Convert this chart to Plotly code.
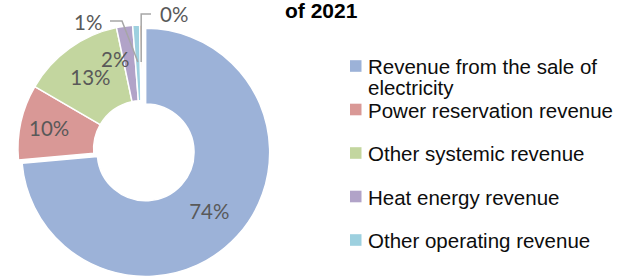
import math
import plotly.graph_objects as go

# ---- data ----
categories = [
    "Revenue from the sale of electricity",
    "Power reservation revenue",
    "Other systemic revenue",
    "Heat energy revenue",
    "Other operating revenue",
    "Other",
]
shares = [73.6, 9.8, 13.3, 2.1, 0.9, 0.3]
colors = ["#9cb2d8", "#d99896", "#c3d69f", "#b1a3c8", "#9dd0df", "#f9be91"]
legend_lines = [["Revenue from the sale of", "electricity"],
                ["Power reservation revenue"],
                ["Other systemic revenue"],
                ["Heat energy revenue"],
                ["Other operating revenue"]]
title_text = "of 2021"

W, H = 621, 278
TOP = 20
PULL = 0.04
CX = 142

def px(x):
    return x / W

def py(y):
    return 1 - y / H

fig = go.Figure()

fig.add_trace(go.Pie(
    labels=categories,
    values=shares,
    sort=False,
    direction="clockwise",
    rotation=0,
    hole=0.39,
    pull=[PULL, 0, 0, 0, 0, 0],
    marker=dict(colors=colors, line=dict(color="white", width=1.5)),
    texttemplate="%{percent:.0%}",
    textposition=["inside", "inside", "inside", "none", "none", "none"],
    insidetextorientation="horizontal",
    textfont=dict(family="Lato, Open Sans, sans-serif", size=20.5, color="#595959"),
    domain=dict(x=[0, px(2 * CX)], y=[0, py(TOP)]),
    showlegend=False,
    hoverinfo="label+percent",
))

# pie geometry (matches plotly's layout of the domain)
R = (H - TOP) / 2 / (1 + PULL)
CY = TOP + (H - TOP) / 2
total = sum(shares)
cum = [sum(shares[:i]) / total for i in range(len(shares) + 1)]

def ring_point(idx, ypix):
    mid = (cum[idx] + cum[idx + 1]) / 2 * 2 * math.pi
    dy = CY - ypix
    return CX + math.tan(mid) * dy

annotations = []
shapes = []
lab_font = dict(family="Lato, Open Sans, sans-serif", size=20.5, color="#595959")

# small-slice labels
pct = [round(s / total * 100) for s in shares]
for idx, (lx, ly) in zip([3, 4, 5], [(115, 59), (88, 22), (174, 14)]):
    annotations.append(dict(x=px(lx), y=py(ly), xref="paper", yref="paper",
                            xanchor="center", yanchor="middle",
                            text=f"{pct[idx]}%", showarrow=False, font=lab_font))

# leader lines
yend = 62
x4 = ring_point(4, yend)
x5 = ring_point(5, yend)
line_style = dict(color="#a6a6a6", width=1.5)
shapes.append(dict(type="path", xref="paper", yref="paper",
                   path=f"M {px(110)} {py(21)} L {px(122)} {py(21)} L {px(x4)} {py(yend)}",
                   line=line_style))
shapes.append(dict(type="path", xref="paper", yref="paper",
                   path=f"M {px(151)} {py(14)} L {px(x5)} {py(14)} L {px(x5)} {py(yend)}",
                   line=line_style))

# title
annotations.append(dict(x=px(283), y=py(11), xref="paper", yref="paper",
                        xanchor="left", yanchor="middle", showarrow=False,
                        text=f"<b>{title_text}</b>",
                        font=dict(family="Liberation Sans, Arial, sans-serif", size=21, color="#000000")))

# manual legend
leg_font = dict(family="Liberation Sans, Arial, sans-serif", size=20.5, color="#0d0d0d")
item_y = [66, 109.5, 153, 196.5, 240]
for i, lines in enumerate(legend_lines):
    yc = item_y[i]
    shapes.append(dict(type="rect", xref="paper", yref="paper",
                       x0=px(350), x1=px(361.5), y0=py(yc - 5.8), y1=py(yc + 5.8),
                       fillcolor=colors[i], line=dict(width=0)))
    for j, t in enumerate(lines):
        annotations.append(dict(x=px(366), y=py(yc + 0.5 + j * 21), xref="paper", yref="paper",
                                xanchor="left", yanchor="middle", showarrow=False,
                                text=t, font=leg_font))

fig.update_layout(
    width=W, height=H,
    margin=dict(l=0, r=0, t=0, b=0),
    paper_bgcolor="white", plot_bgcolor="white",
    annotations=annotations, shapes=shapes,
)

fig.write_html("out.html", config={"displayModeBar": False},
               post_script="document.body.style.margin='0';document.body.style.overflow='hidden';")
